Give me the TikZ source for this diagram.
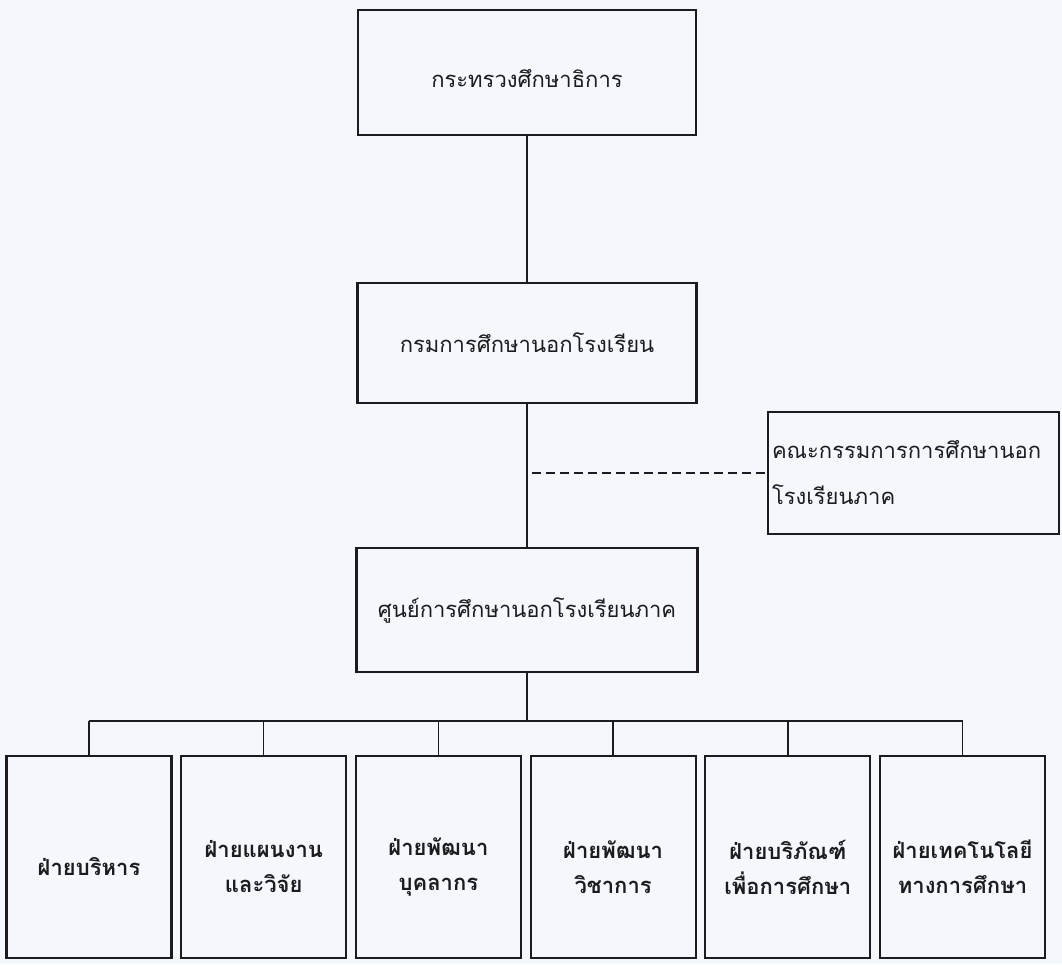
\documentclass[tikz,border=0pt]{standalone}
\usepackage{fontspec}
\newfontfamily\thaifont[Script=Thai]{Loma}
\usetikzlibrary{positioning}

\definecolor{paper}{RGB}{244,247,251}
\definecolor{ink}{RGB}{28,28,30}

\begin{document}
\begin{tikzpicture}[x=1pt,y=-1pt,
    box/.style={draw=ink, line width=2.2pt, inner sep=0pt, align=center, text=ink,
      font=\thaifont\fontsize{22}{30}\selectfont},
    unit/.style={box, minimum width=165pt, minimum height=202pt},
    unittext/.style={align=center, text=ink, inner sep=0pt,
      font=\thaifont\bfseries\fontsize{22}{35}\selectfont},
    link/.style={draw=ink, line width=1.5pt}]

  % page
  \fill[paper] (0,0) rectangle (1062,964);
  \useasboundingbox (0,0) rectangle (1062,964);

  % main line
  \node[box, minimum width=338pt, minimum height=125pt] (ministry) at (527,72.5) {};
  \node[box, minimum width=339pt, minimum height=120pt] (dept) at (527,343) {กรมการศึกษานอกโรงเรียน};
  \node[box, minimum width=341pt, minimum height=124pt] (centre) at (527,610) {ศูนย์การศึกษานอกโรงเรียนภาค};
  \node[box, minimum width=291pt, minimum height=122pt, text width=283pt, align=left,
    font=\thaifont\fontsize{22}{46}\selectfont] (board) at (913.5,473) {คณะกรรมการการศึกษานอก\\โรงเรียนภาค};
  \node[box, draw=none] (ministrytext) at ([yshift=-6pt]ministry.center) {กระทรวงศึกษาธิการ};

  \draw[link] (ministry) -- (dept);
  \draw[link] (dept) -- (centre);
  \draw[link, dash pattern=on 9pt off 5pt] (dept.south |- board.west) ++(5,0) -- (board.west);

  % sections
  \coordinate (bus) at (527,721);
  \draw[link] (centre) -- (bus);
  \foreach \i/\txt in {0/{ฝ่ายบริหาร}, 1/{ฝ่ายแผนงาน\\และวิจัย}, 2/{ฝ่ายพัฒนา\\บุคลากร},
      3/{ฝ่ายพัฒนา\\วิชาการ}, 4/{ฝ่ายบริภัณฑ์\\เพื่อการศึกษา}, 5/{ฝ่ายเทคโนโลยี\\ทางการศึกษา}} {
    \node[unit] (u\i) at ({89+174.7*\i},857) {};
    \node[unittext] (t\i) at ([yshift=-10pt]u\i.center) {\txt};
    \draw[link] (u\i.north) -- (u\i.north |- bus);
  }
  \draw[link] (u0.north |- bus) -- (u5.north |- bus);

\end{tikzpicture}
\end{document}
